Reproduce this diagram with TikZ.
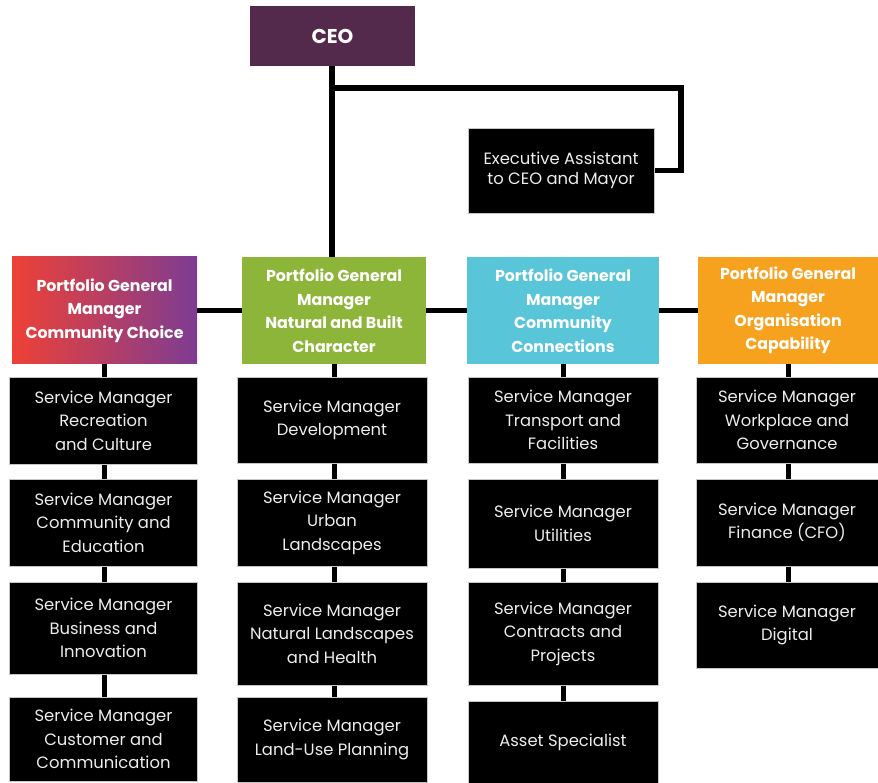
\documentclass[tikz,border=0pt]{standalone}
\usepackage{fontspec}
\setmainfont{Poppins}
\usetikzlibrary{backgrounds}

\definecolor{ceopurple}{HTML}{532A4C}
\definecolor{pgred}{HTML}{EE4136}
\definecolor{pgviolet}{HTML}{7D3C93}
\definecolor{pggreen}{HTML}{8DB53A}
\definecolor{pgcyan}{HTML}{58C5D9}
\definecolor{pgorange}{HTML}{F7A21F}
\definecolor{svctext}{HTML}{EDEDED}

\tikzset{
  box/.style={rectangle, inner sep=0pt, align=center},
  svc/.style={box, fill=black, draw=gray!45, line width=0.6pt, text=svctext,
    font=\fontsize{16.4}{23.5}\selectfont},
  pgm/.style={box, text=white, font=\bfseries\fontsize{15.8}{23.5}\selectfont},
  link/.style={line width=5.5pt, black},
  sublink/.style={line width=5pt, black},
}

\begin{document}
\begin{tikzpicture}[x=1pt,y=-1pt]
\useasboundingbox (0,0) rectangle (878,783);

% chief executive and assistant
\node[box, fill=ceopurple, text=white, minimum width=165pt, minimum height=60pt,
  font=\bfseries\fontsize{20}{22}\selectfont] (ceo) at (332.5,36) {CEO};
\node[svc, minimum width=186pt, minimum height=85pt,
  font=\fontsize{16.4}{20.5}\selectfont] (exec) at (561,170.5)
  {Executive Assistant\\to CEO and Mayor};

% portfolio general managers
\node[pgm, left color=pgred, right color=pgviolet, minimum width=185pt, minimum height=107pt]
  (pcc) at (104.5,310.5) {Portfolio General\\Manager\\Community Choice};
\node[pgm, fill=pggreen, minimum width=184pt, minimum height=107pt]
  (pnb) at (334,310.5) {Portfolio General\\Manager\\Natural and Built\\Character};
\node[pgm, fill=pgcyan, minimum width=192pt, minimum height=107pt]
  (pcn) at (563,310.5) {Portfolio General\\Manager\\Community\\Connections};
\node[pgm, fill=pgorange, minimum width=180pt, minimum height=107pt]
  (porg) at (788,310.5) {Portfolio General\\Manager\\Organisation\\Capability};

% service managers: community choice
\node[svc, minimum width=188pt, minimum height=87pt] (c1a) at (103.5,420.5)
  {Service Manager\\Recreation\\and Culture};
\node[svc, minimum width=188pt, minimum height=87pt] (c1b) at (103.5,522.5)
  {Service Manager\\Community and\\Education};
\node[svc, minimum width=188pt, minimum height=92pt] (c1c) at (103.5,628)
  {Service Manager\\Business and\\Innovation};
\node[svc, minimum width=188pt, minimum height=84pt] (c1d) at (103.5,739)
  {Service Manager\\Customer and\\Communication};

% service managers: natural and built character
\node[svc, minimum width=190pt, minimum height=86pt] (c2a) at (332,420)
  {Service Manager\\Development};
\node[svc, minimum width=190pt, minimum height=87pt] (c2b) at (332,522.5)
  {Service Manager\\Urban\\Landscapes};
\node[svc, minimum width=190pt, minimum height=103pt] (c2c) at (332,633.5)
  {Service Manager\\Natural Landscapes\\and Health};
\node[svc, minimum width=190pt, minimum height=85pt] (c2d) at (332,739.5)
  {Service Manager\\Land-Use Planning};

% service managers: community connections
\node[svc, minimum width=190pt, minimum height=86pt] (c3a) at (563,420)
  {Service Manager\\Transport and\\Facilities};
\node[svc, minimum width=190pt, minimum height=89pt] (c3b) at (563,523.5)
  {Service Manager\\Utilities};
\node[svc, minimum width=190pt, minimum height=103pt] (c3c) at (563,633.5)
  {Service Manager\\Contracts and\\Projects};
\node[svc, minimum width=190pt, minimum height=82pt] (c3d) at (563,742)
  {Asset Specialist};

% service managers: organisation capability
\node[svc, minimum width=182pt, minimum height=86pt] (c4a) at (787,420)
  {Service Manager\\Workplace and\\Governance};
\node[svc, minimum width=182pt, minimum height=87pt] (c4b) at (787,522.5)
  {Service Manager\\Finance (CFO)};
\node[svc, minimum width=182pt, minimum height=86pt] (c4c) at (787,625)
  {Service Manager\\Digital};

% reporting lines
\coordinate (split) at (332,88);
\coordinate (turn) at (681,88);
\begin{scope}[on background layer]
  \draw[link] (ceo.south -| split) -- (pnb.north -| split);
  \draw[link, line cap=rect] (split) -- (turn) |- (exec.east);
  \draw[link] (pcc.center) -- (porg.center);
  \draw[sublink] (pcc.center) -- (pcc.center |- c1d.center);
  \draw[sublink] (pnb.center) -- (pnb.center |- c2d.center);
  \draw[sublink] (pcn.center) -- (pcn.center |- c3d.center);
  \draw[sublink] (porg.center) -- (porg.center |- c4c.center);
\end{scope}
\end{tikzpicture}
\end{document}
